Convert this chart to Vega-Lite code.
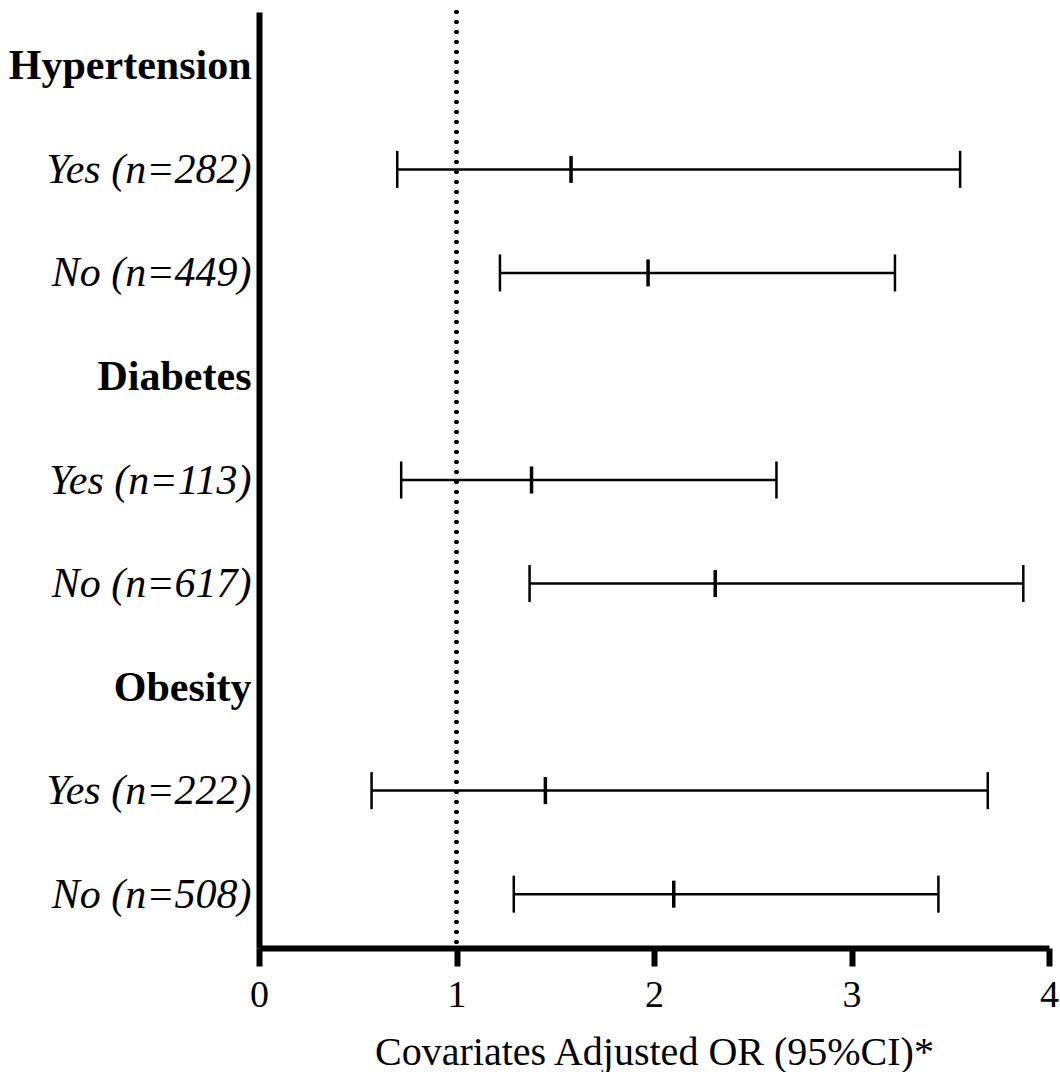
{
  "$schema": "https://vega.github.io/schema/vega-lite/v6.json",
  "autosize": {"type": "none"},
  "padding": {"left": 259, "top": 12, "right": 11, "bottom": 124},
  "width": 790,
  "height": 936,
  "background": "white",
  "config": {"view": {"stroke": null}, "font": "Liberation Serif"},
  "data": {
    "values": [
      {"group": "Yes (n=282)", "lo": 0.70, "or": 1.58, "hi": 3.55},
      {"group": "No (n=449)", "lo": 1.22, "or": 1.97, "hi": 3.22},
      {"group": "Yes (n=113)", "lo": 0.72, "or": 1.38, "hi": 2.62},
      {"group": "No (n=617)", "lo": 1.37, "or": 2.31, "hi": 3.87},
      {"group": "Yes (n=222)", "lo": 0.57, "or": 1.45, "hi": 3.69},
      {"group": "No (n=508)", "lo": 1.29, "or": 2.10, "hi": 3.44}
    ]
  },
  "encoding": {
    "y": {
      "field": "group",
      "type": "nominal",
      "scale": {
        "type": "point",
        "domain": ["Hypertension", "Yes (n=282)", "No (n=449)", "Diabetes", "Yes (n=113)", "No (n=617)", "Obesity", "Yes (n=222)", "No (n=508)"],
        "padding": 0.52
      },
      "axis": {
        "title": null,
        "ticks": false,
        "grid": false,
        "domainColor": "black",
        "domainWidth": 6,
        "labelFont": "Liberation Serif",
        "labelFontSize": 42,
        "labelColor": "black",
        "labelPadding": 8,
        "labelLimit": 400,
        "labelFontWeight": {"condition": {"test": "indexof(['Hypertension','Diabetes','Obesity'], datum.value) >= 0", "value": "bold"}, "value": "normal"},
        "labelFontStyle": {"condition": {"test": "indexof(['Hypertension','Diabetes','Obesity'], datum.value) >= 0", "value": "normal"}, "value": "italic"}
      }
    }
  },
  "layer": [
    {
      "mark": {"type": "rule", "color": "black", "strokeWidth": 4, "strokeDash": [0, 10], "strokeCap": "round"},
      "encoding": {"x": {"datum": 1, "type": "quantitative"}, "y": null}
    },
    {
      "mark": {"type": "rule", "color": "black", "strokeWidth": 2.5, "opacity": 1},
      "encoding": {
        "x": {
          "field": "lo",
          "type": "quantitative",
          "scale": {"domain": [0, 4], "nice": false, "zero": false},
          "axis": {
            "title": "Covariates Adjusted OR (95%CI)*",
            "values": [0, 1, 2, 3, 4],
            "format": "d",
            "grid": false,
            "labelFlush": false,
            "domainColor": "black",
            "domainWidth": 6,
            "tickColor": "black",
            "tickWidth": 6,
            "tickSize": 18,
            "labelFont": "Liberation Serif",
            "labelFontSize": 38,
            "labelColor": "black",
            "labelPadding": 10,
            "titleFont": "Liberation Serif",
            "titleFontSize": 40,
            "titleFontWeight": "normal",
            "titleColor": "black",
            "titlePadding": 18
          }
        },
        "x2": {"field": "hi"}
      }
    },
    {
      "mark": {"type": "tick", "color": "black", "opacity": 1, "thickness": 2.5, "size": 37, "orient": "vertical"},
      "encoding": {"x": {"field": "lo", "type": "quantitative"}}
    },
    {
      "mark": {"type": "tick", "color": "black", "opacity": 1, "thickness": 2.5, "size": 37, "orient": "vertical"},
      "encoding": {"x": {"field": "hi", "type": "quantitative"}}
    },
    {
      "mark": {"type": "tick", "color": "black", "opacity": 1, "thickness": 3.5, "size": 27, "orient": "vertical"},
      "encoding": {"x": {"field": "or", "type": "quantitative"}}
    }
  ]
}
